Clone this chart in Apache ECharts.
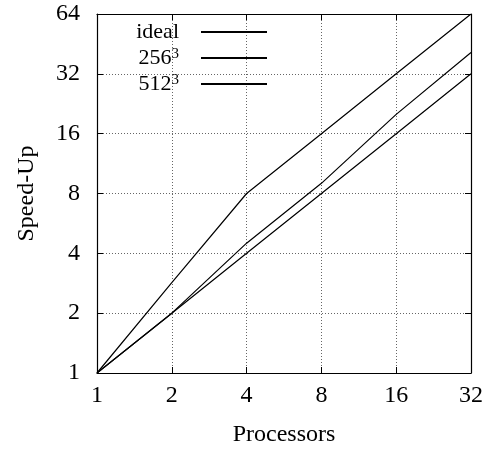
<!DOCTYPE html>
<html><head><meta charset="utf-8">
<script src="https://cdn.jsdelivr.net/npm/echarts@6/dist/echarts.min.js"></script>
<style>html,body{margin:0;padding:0;background:#fff}#c{width:487px;height:452px}</style>
</head><body><div id="c"></div>
<script>
const processors = [1, 2, 4, 8, 16, 32];
const seriesNames = ['ideal', '256³', '512³'];
const idealSpeedup = [1, 2, 4, 8, 16, 32];
const speedup256 = [1, 2.85, 8, 16, 32, 64];
const speedup512 = [1, 2.0, 4.5, 9, 20, 41];
const xTitle = 'Processors';
const yTitle = 'Speed-Up';

const FONT = 'Liberation Serif';
const pairs = ys => processors.map((p, i) => [p, ys[i]]);
const valuesList = [idealSpeedup, speedup256, speedup512];

const tickStyle = {show: true, inside: true, length: 6, lineStyle: {color: '#000', width: 1}};
const axisLineStyle = {show: true, lineStyle: {color: '#000', width: 1.2}};
const gridStyle = {show: true, lineStyle: {color: '#666', width: 1, type: [1, 2]}};
const labelFmt = v => String(Math.round(v));

const chart = echarts.init(document.getElementById('c'), null, {renderer: 'canvas'});
chart.setOption({
  backgroundColor: '#fff',
  animation: false,
  grid: {left: 97, right: 16, top: 14, bottom: 78, show: false},
  legend: {
    data: seriesNames,
    orient: 'vertical',
    align: 'right',
    right: 219,
    top: 21,
    padding: 0,
    itemWidth: 66,
    itemHeight: 14,
    itemGap: 4,
    formatter: name => name.replace('³', '{s|3}'),
    textStyle: {
      fontFamily: FONT, fontSize: 22, color: '#000', lineHeight: 22, padding: [0, 17, 0, 0],
      rich: {s: {fontFamily: FONT, fontSize: 15, color: '#000', verticalAlign: 'top', lineHeight: 12}}
    },
    itemStyle: {opacity: 0}
  },
  xAxis: [{
    type: 'log', logBase: 2, min: 1, max: 32, position: 'bottom',
    name: xTitle, nameLocation: 'middle', nameGap: 50,
    nameTextStyle: {fontFamily: FONT, fontSize: 24, color: '#000'},
    axisLine: axisLineStyle, axisTick: tickStyle,
    axisLabel: {fontFamily: FONT, fontSize: 24, color: '#000', margin: 11, formatter: labelFmt},
    splitLine: gridStyle, minorTick: {show: false}
  }, {
    type: 'log', logBase: 2, min: 1, max: 32, position: 'top',
    axisLine: axisLineStyle, axisTick: tickStyle,
    axisLabel: {show: false}, splitLine: {show: false}
  }],
  yAxis: [{
    type: 'log', logBase: 2, min: 1, max: 64, position: 'left',
    name: yTitle, nameLocation: 'middle', nameGap: 58, nameRotate: 90,
    nameTextStyle: {fontFamily: FONT, fontSize: 24, color: '#000'},
    axisLine: axisLineStyle, axisTick: tickStyle,
    axisLabel: {fontFamily: FONT, fontSize: 24, color: '#000', margin: 17, formatter: labelFmt},
    splitLine: gridStyle
  }, {
    type: 'log', logBase: 2, min: 1, max: 64, position: 'right',
    axisLine: axisLineStyle, axisTick: tickStyle,
    axisLabel: {show: false}, splitLine: {show: false}
  }],
  series: seriesNames.map((name, i) => ({
    name: name,
    type: 'line',
    data: pairs(valuesList[i]),
    symbol: 'none',
    showSymbol: false,
    lineStyle: {color: '#000', width: 1.2},
    itemStyle: {color: '#000'}
  }))
});
</script></body></html>
